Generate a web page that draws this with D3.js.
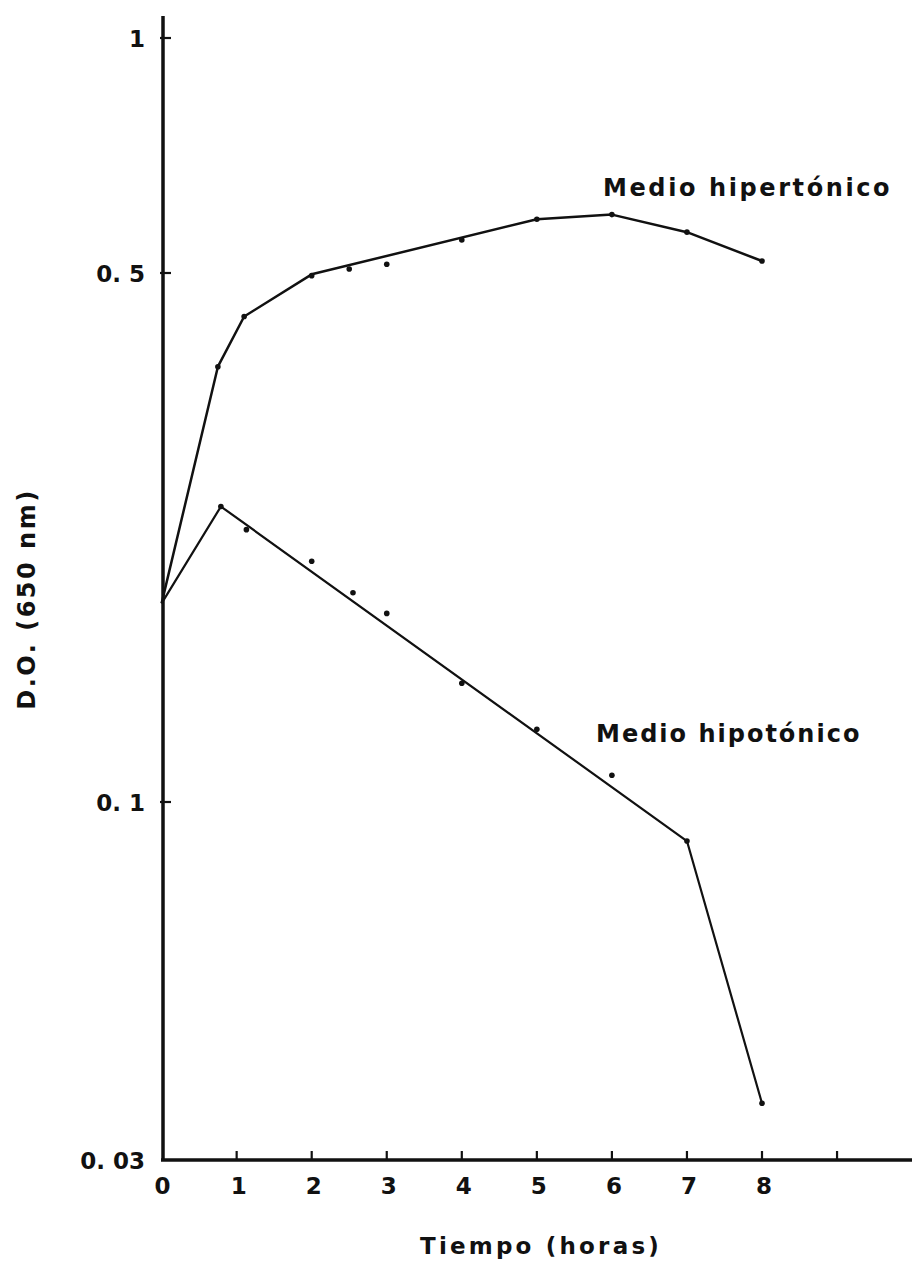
<!DOCTYPE html>
<html>
<head>
<meta charset="utf-8">
<script src="https://cdn.jsdelivr.net/npm/d3@7"></script>
<style>
  html, body { margin: 0; padding: 0; background: #fff; }
  svg { display: block; }
  text { font-family: "DejaVu Sans", sans-serif; fill: #111; }
</style>
</head>
<body>
<svg id="chart" width="912" height="1265"></svg>
<script>
// ---- data ----
const xTicks = [1, 2, 3, 4, 5, 6, 7, 8, 9];
const xTickLabels = ["0", "1", "2", "3", "4", "5", "6", "7", "8"];
const yTicks = [1, 0.5, 0.1, 0.03];
const yTickLabels = ["1", "0. 5", "0. 1", "0. 03"];

// Medio hipertónico: polyline vertices and measured points
const hyperLineX = [0, 0.75, 1.1, 2, 5, 6, 7, 8];
const hyperLineY = [0.183, 0.376, 0.438, 0.498, 0.586, 0.594, 0.564, 0.518];
const hyperDotX = [0.75, 1.1, 2, 2.5, 3, 4, 5, 6, 7, 8];
const hyperDotY = [0.376, 0.438, 0.496, 0.506, 0.513, 0.551, 0.586, 0.594, 0.564, 0.518];

// Medio hipotónico
const hypoLineX = [0, 0.79, 7, 8];
const hypoLineY = [0.183, 0.2457, 0.0877, 0.0363];
const hypoDotX = [0.79, 1.13, 2, 2.55, 3, 4, 5, 6, 7, 8];
const hypoDotY = [0.2457, 0.229, 0.208, 0.189, 0.1775, 0.1435, 0.1248, 0.1085, 0.0877, 0.0363];

// ---- scales ----
const svg = d3.select("#chart");
const x = d3.scaleLinear().domain([0, 8]).range([161.6, 762]);
const y = d3.scaleLog().domain([0.03, 0.1, 0.5, 1]).range([1160, 802, 273, 38]);

// ---- axes ----
const axisCol = "#111";
svg.append("line")
  .attr("x1", 163).attr("x2", 163)
  .attr("y1", 16).attr("y2", 1161)
  .attr("stroke", axisCol).attr("stroke-width", 3.5);
svg.append("line")
  .attr("x1", 161).attr("x2", 912)
  .attr("y1", 1160).attr("y2", 1160)
  .attr("stroke", axisCol).attr("stroke-width", 3.5);

svg.append("g").selectAll("line").data(xTicks).join("line")
  .attr("x1", d => x(d)).attr("x2", d => x(d))
  .attr("y1", 1160).attr("y2", 1151)
  .attr("stroke", axisCol).attr("stroke-width", 2.2);

svg.append("g").selectAll("text").data(xTickLabels).join("text")
  .attr("x", (d, i) => x(i) + (i === 0 ? 1 : 2))
  .attr("y", 1194)
  .attr("text-anchor", "middle")
  .attr("font-size", 23)
  .attr("font-weight", "bold")
  .text(d => d);

svg.append("g").selectAll("line").data(yTicks.slice(0, 3)).join("line")
  .attr("x1", 160).attr("x2", 171)
  .attr("y1", d => y(d)).attr("y2", d => y(d))
  .attr("stroke", axisCol).attr("stroke-width", 2.2);

svg.append("g").selectAll("text").data(yTicks).join("text")
  .attr("x", 145)
  .attr("y", d => y(d) + 9)
  .attr("text-anchor", "end")
  .attr("font-size", 23)
  .attr("font-weight", "bold")
  .text((d, i) => yTickLabels[i]);

// axis titles
svg.append("text")
  .attr("x", 541).attr("y", 1254)
  .attr("text-anchor", "middle")
  .attr("font-size", 23)
  .attr("font-weight", "bold")
  .attr("letter-spacing", 3.2)
  .text("Tiempo (horas)");

svg.append("text")
  .attr("transform", "translate(35,599) rotate(-90)")
  .attr("text-anchor", "middle")
  .attr("font-size", 24)
  .attr("font-weight", "bold")
  .attr("letter-spacing", 2.5)
  .text("D.O. (650 nm)");

// ---- series ----
const line = d3.line().x(d => x(d[0])).y(d => y(d[1]));

svg.append("path")
  .datum(d3.zip(hyperLineX, hyperLineY))
  .attr("d", line)
  .attr("fill", "none").attr("stroke", "#111").attr("stroke-width", 2.5)
  .attr("stroke-linejoin", "round");

svg.append("path")
  .datum(d3.zip(hypoLineX, hypoLineY))
  .attr("d", line)
  .attr("fill", "none").attr("stroke", "#111").attr("stroke-width", 2.2)
  .attr("stroke-linejoin", "round");

svg.append("g").selectAll("circle").data(d3.zip(hyperDotX, hyperDotY)).join("circle")
  .attr("cx", d => x(d[0])).attr("cy", d => y(d[1])).attr("r", 2.8)
  .attr("fill", "#111");

svg.append("g").selectAll("circle").data(d3.zip(hypoDotX, hypoDotY)).join("circle")
  .attr("cx", d => x(d[0])).attr("cy", d => y(d[1])).attr("r", 2.8)
  .attr("fill", "#111");

// series labels
svg.append("text")
  .attr("x", 603).attr("y", 196)
  .attr("font-size", 24)
  .attr("font-weight", "bold")
  .attr("letter-spacing", 2.6)
  .text("Medio hipertónico");

svg.append("text")
  .attr("x", 596).attr("y", 742)
  .attr("font-size", 24)
  .attr("font-weight", "bold")
  .attr("letter-spacing", 2)
  .text("Medio hipotónico");
</script>
</body>
</html>
